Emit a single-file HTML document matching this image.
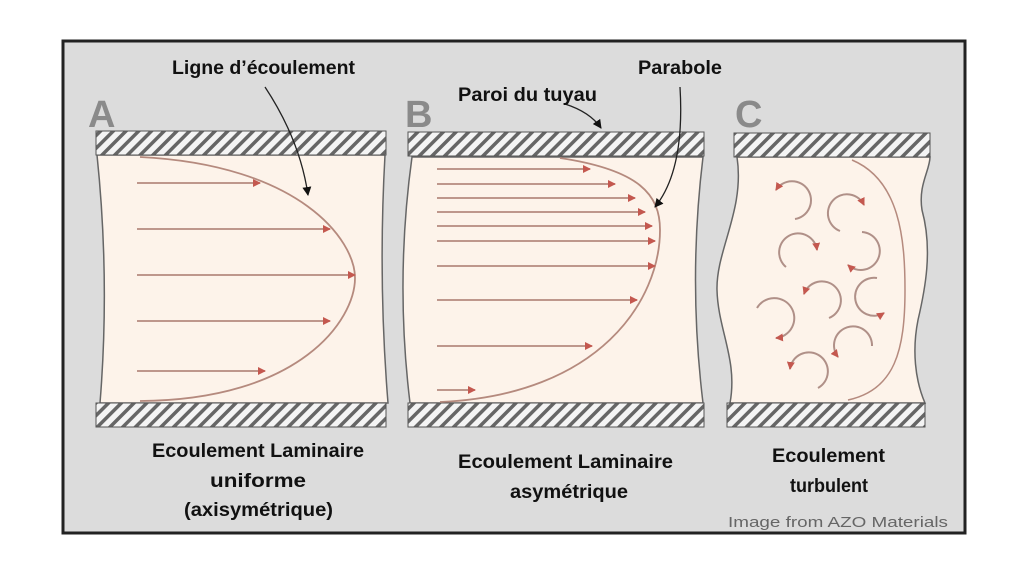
<!DOCTYPE html>
<html><head><meta charset="utf-8"><style>
html,body{margin:0;padding:0;background:#fff;width:1024px;height:576px;overflow:hidden}
svg{display:block}
text{font-family:"Liberation Sans",sans-serif}
</style></head><body>
<svg width="1024" height="576" viewBox="0 0 1024 576">
<defs>
<pattern id="h" width="9" height="9" patternUnits="userSpaceOnUse" patternTransform="rotate(45)">
<rect width="9" height="9" fill="#f4f4f4"/><rect width="3.5" height="9" fill="#666"/></pattern>
<marker id="r" markerWidth="8" markerHeight="8" refX="7" refY="4" orient="auto" markerUnits="userSpaceOnUse"><path d="M0,0 L8,4 L0,8z" fill="#c4584f"/></marker>
<marker id="k" markerWidth="9" markerHeight="9" refX="8" refY="4.5" orient="auto" markerUnits="userSpaceOnUse"><path d="M0,0 L9,4.5 L0,9z" fill="#111"/></marker>
</defs>
<rect x="63" y="41" width="902" height="492" fill="#dcdcdc" stroke="#222" stroke-width="3"/>
<!-- A -->
<path d="M97,155 Q110,280 100,403 L388,403 Q378,280 385,155Z" fill="#fdf3ea" stroke="#666" stroke-width="1.5"/>
<rect x="96" y="131" width="290" height="24" fill="url(#h)" stroke="#555"/>
<rect x="96" y="403" width="290" height="24" fill="url(#h)" stroke="#555"/>
<path d="M140,157 C300,165 355,240 355,278 C355,320 300,400 140,401" fill="none" stroke="#b58a7e" stroke-width="1.8"/>
<g stroke="#b58a7e" stroke-width="1.8" marker-end="url(#r)">
<line x1="137" y1="183" x2="260" y2="183"/><line x1="137" y1="229" x2="330" y2="229"/><line x1="137" y1="275" x2="355" y2="275"/><line x1="137" y1="321" x2="330" y2="321"/><line x1="137" y1="371" x2="265" y2="371"/></g>
<!-- B -->
<path d="M412,157 Q395,280 410,403 L703,403 Q688,280 703,157Z" fill="#fdf3ea" stroke="#666" stroke-width="1.5"/>
<rect x="408" y="132" width="296" height="24" fill="url(#h)" stroke="#555"/>
<rect x="408" y="403" width="296" height="24" fill="url(#h)" stroke="#555"/>
<path d="M560,158 C640,170 660,195 660,230 C660,300 600,395 440,402" fill="none" stroke="#b58a7e" stroke-width="1.8"/>
<g stroke="#b58a7e" stroke-width="1.8" marker-end="url(#r)">
<line x1="437" y1="169" x2="590" y2="169"/><line x1="437" y1="184" x2="615" y2="184"/><line x1="437" y1="198" x2="635" y2="198"/><line x1="437" y1="212" x2="645" y2="212"/><line x1="437" y1="226" x2="652" y2="226"/><line x1="437" y1="241" x2="655" y2="241"/><line x1="437" y1="266" x2="655" y2="266"/><line x1="437" y1="300" x2="637" y2="300"/><line x1="437" y1="346" x2="592" y2="346"/><line x1="437" y1="390" x2="475" y2="390"/></g>
<!-- C -->
<path d="M737,157 C745,210 716,250 717,290 C718,330 738,360 730,403 L925,403 C915,380 912,350 918,320 C925,290 933,250 922,210 C918,185 930,170 930,157Z" fill="#fdf3ea" stroke="#666" stroke-width="1.5"/>
<rect x="734" y="133" width="196" height="24" fill="url(#h)" stroke="#555"/>
<rect x="727" y="403" width="198" height="24" fill="url(#h)" stroke="#555"/>
<path d="M852,160 C900,180 905,240 905,290 C905,350 895,390 848,400" fill="none" stroke="#b58a7e" stroke-width="1.5"/>
<g fill="none" stroke="#b09088" stroke-width="2" marker-end="url(#r)">
<path d="M795,219 A19,19 0 1 0 776,190"/>
<path d="M840,231 A19,19 0 1 1 864,205"/>
<path d="M786,267 A19,19 0 1 1 817,250"/>
<path d="M862,232 A19,19 0 1 1 848,265"/>
<path d="M829,318 A19,19 0 1 0 804,294"/>
<path d="M877,278 A19,19 0 1 0 884,313"/>
<path d="M757,308 A20,20 0 1 1 776,338"/>
<path d="M872,346 A19,19 0 1 0 838,357"/>
<path d="M818,388 A19,19 0 1 0 790,369"/>
</g>
<!-- letters -->
<g font-size="38" font-weight="bold" fill="#8a8a8a"><text x="88" y="127">A</text><text x="405" y="127">B</text><text x="735" y="127">C</text></g>
<!-- pointers -->
<g fill="none" stroke="#222" stroke-width="1.3" marker-end="url(#k)">
<path d="M265,87 Q300,140 308,195"/>
<path d="M565,104 Q590,112 601,128"/>
<path d="M680,87 Q685,170 655,207"/>
</g>
<g font-size="19" font-weight="bold" fill="#111" lengthAdjust="spacingAndGlyphs">
<text x="172" y="74" textLength="183" lengthAdjust="spacingAndGlyphs">Ligne d’écoulement</text>
<text x="458" y="101" textLength="139" lengthAdjust="spacingAndGlyphs">Paroi du tuyau</text>
<text x="638" y="74" textLength="84" lengthAdjust="spacingAndGlyphs">Parabole</text>
<text x="152" y="457" textLength="212" lengthAdjust="spacingAndGlyphs">Ecoulement Laminaire</text>
<text x="210" y="487" textLength="96" lengthAdjust="spacingAndGlyphs">uniforme</text>
<text x="184" y="516" textLength="149" lengthAdjust="spacingAndGlyphs">(axisymétrique)</text>
<text x="458" y="468" textLength="215" lengthAdjust="spacingAndGlyphs">Ecoulement Laminaire</text>
<text x="510" y="498" textLength="118" lengthAdjust="spacingAndGlyphs">asymétrique</text>
<text x="772" y="462" textLength="113" lengthAdjust="spacingAndGlyphs">Ecoulement</text>
<text x="790" y="492" textLength="78" lengthAdjust="spacingAndGlyphs">turbulent</text>
</g>
<text x="728" y="527" font-size="15" fill="#666" textLength="220" lengthAdjust="spacingAndGlyphs">Image from AZO Materials</text>
</svg>
</body></html>
